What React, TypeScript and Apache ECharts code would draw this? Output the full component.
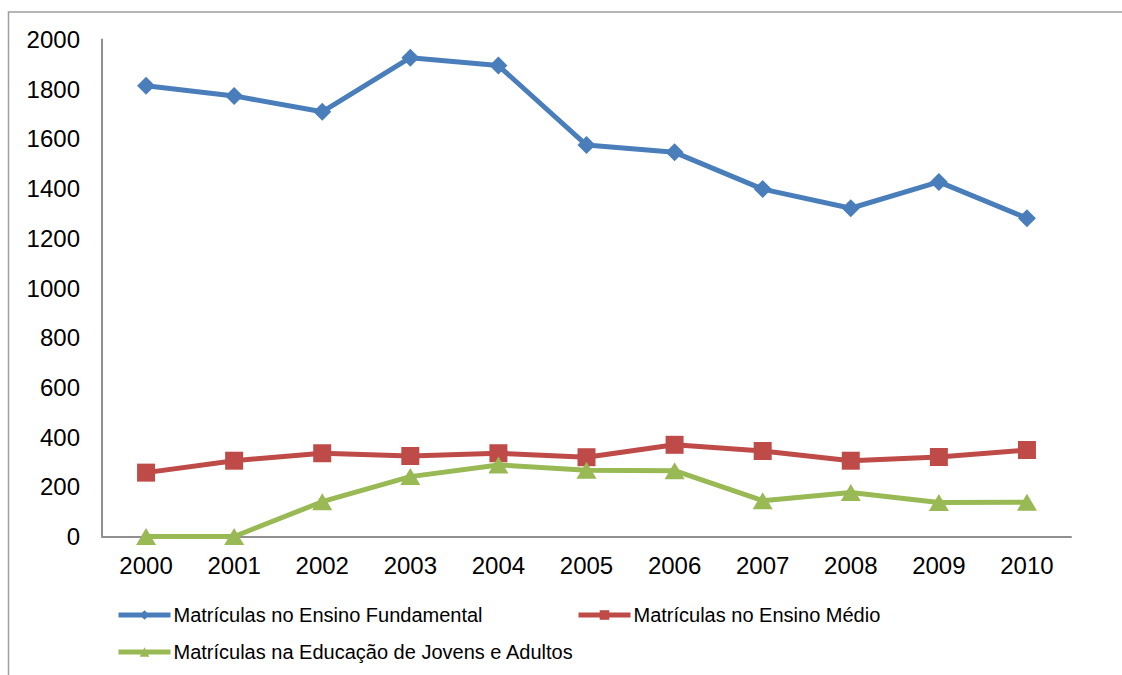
import React, { useEffect, useRef } from "react";
import * as echarts from "echarts";

const years = ["2000", "2001", "2002", "2003", "2004", "2005", "2006", "2007", "2008", "2009", "2010"];
const fundamental = [1814, 1773, 1709, 1927, 1895, 1575, 1546, 1398, 1321, 1427, 1281];
const medio = [257, 305, 335, 324, 335, 319, 369, 344, 305, 320, 348];
const eja = [0, 0, 140, 241, 288, 267, 265, 144, 177, 137, 138];
const seriesNames = [
  "Matrículas no Ensino Fundamental",
  "Matrículas no Ensino Médio",
  "Matrículas na Educação de Jovens e Adultos",
];
const FONT = "'Liberation Sans', Arial, sans-serif";

export default function App() {
  const ref = useRef<HTMLDivElement>(null);
  useEffect(() => {
    if (!ref.current) return;
    const chart = echarts.init(ref.current, null, { renderer: "svg" });
    const legendBase = {
      itemWidth: 52,
      itemHeight: 12,
      itemGap: 4,
      padding: 0,
      lineStyle: { width: 5 },
      textStyle: { fontFamily: FONT, fontSize: 20, color: "#000", padding: [0, 0, 0, -2] },
    };
    chart.setOption({
      animation: false,
      backgroundColor: "#fff",
      textStyle: { fontFamily: FONT },
      graphic: [
        {
          type: "rect",
          shape: { x: 8.5, y: 12, width: 1140, height: 700 },
          style: { fill: "none", stroke: "#9f9f9f", lineWidth: 1.5 },
          silent: true,
          z: -1,
        },
      ],
      grid: { left: 102, top: 39.5, width: 969, height: 497, containLabel: false },
      xAxis: {
        type: "category",
        data: years,
        boundaryGap: true,
        axisLine: { lineStyle: { color: "#909090", width: 2 } },
        axisTick: { show: false },
        axisLabel: { fontFamily: FONT, fontSize: 24, color: "#000", margin: 17 },
      },
      yAxis: {
        type: "value",
        min: 0,
        max: 2000,
        interval: 200,
        axisLine: { show: true, lineStyle: { color: "#909090", width: 2 } },
        axisTick: { show: false },
        splitLine: { show: false },
        axisLabel: {
          fontFamily: FONT,
          fontSize: 24,
          color: "#000",
          margin: 22,
          formatter: (v: number) => String(v),
        },
      },
      legend: [
        { ...legendBase, data: [seriesNames[0]], left: 116, top: 605 },
        { ...legendBase, data: [seriesNames[1]], left: 576, top: 605 },
        { ...legendBase, data: [seriesNames[2]], left: 116, top: 642 },
      ],
      series: [
        {
          name: seriesNames[0],
          type: "line",
          data: fundamental,
          symbol: "diamond",
          symbolSize: 18,
          lineStyle: { color: "#4A7EBB", width: 5 },
          itemStyle: { color: "#4A7EBB" },
        },
        {
          name: seriesNames[1],
          type: "line",
          data: medio,
          symbol: "rect",
          symbolSize: 18,
          lineStyle: { color: "#BE4B48", width: 5 },
          itemStyle: { color: "#BE4B48" },
        },
        {
          name: seriesNames[2],
          type: "line",
          data: eja,
          symbol: "triangle",
          symbolSize: [20, 17],
          lineStyle: { color: "#98B954", width: 5 },
          itemStyle: { color: "#98B954" },
        },
      ],
    });
    return () => chart.dispose();
  }, []);
  return (
    <div
      ref={ref}
      style={{ position: "fixed", left: 0, top: 0, width: 1122, height: 675 }}
    />
  );
}
